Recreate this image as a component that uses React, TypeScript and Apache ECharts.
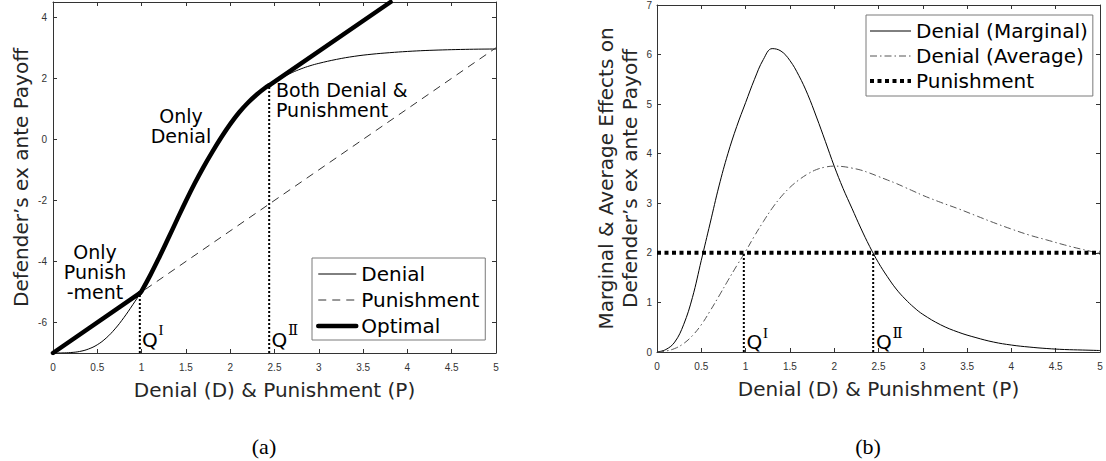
import React, { useEffect, useRef } from "react";
import * as echarts from "echarts";

// ---------- data ----------
// common x grid (Denial D & Punishment P)
const xGrid = [
  0, 0.1, 0.2, 0.3, 0.4, 0.5, 0.6, 0.7, 0.8, 0.9, 1.0, 1.1, 1.2, 1.3, 1.4, 1.5, 1.6, 1.7, 1.8, 1.9,
  2.0, 2.1, 2.2, 2.3, 2.4, 2.5, 2.6, 2.7, 2.8, 2.9, 3.0, 3.2, 3.4, 3.6, 3.8, 4.0, 4.2, 4.4, 4.6, 4.8, 5.0,
];
// (a) defender's ex ante payoff with denial only
const denialPayoff = [
  -7, -6.998, -6.985, -6.95, -6.87, -6.73, -6.51, -6.21, -5.84, -5.42, -4.97, -4.44, -3.86, -3.25, -2.63,
  -2.02, -1.44, -0.9, -0.4, 0.07, 0.5, 0.88, 1.2, 1.47, 1.7, 1.89, 2.05, 2.19, 2.31, 2.41, 2.49, 2.62, 2.72,
  2.79, 2.84, 2.88, 2.91, 2.93, 2.945, 2.955, 2.96,
];
// (a) punishment only (straight line)
const punishmentX = [0, 5];
const punishmentPayoff = [-7, 3];
// thresholds Q^I, Q^II and payoff there
const qThresholds = [0.98, 2.44];
const qPayoff = [-5.04, 1.77];
// end of the optimal line at the top of panel (a)
const optimalEnd = [3.81, 4.5];
// (b) marginal and average effects of denial
const marginalEffect = [
  0, 0.05, 0.2, 0.55, 1.1, 1.85, 2.6, 3.35, 4.0, 4.55, 5.03, 5.5, 5.9, 6.12, 6.07, 5.88, 5.58, 5.2, 4.74,
  4.25, 3.75, 3.3, 2.9, 2.5, 2.13, 1.8, 1.52, 1.27, 1.07, 0.9, 0.76, 0.55, 0.4, 0.29, 0.2, 0.14, 0.1, 0.07,
  0.05, 0.04, 0.03,
];
const averageEffect = [
  0, 0.02, 0.07, 0.17, 0.33, 0.55, 0.83, 1.13, 1.44, 1.74, 2.03, 2.34, 2.63, 2.9, 3.13, 3.32, 3.47, 3.59,
  3.68, 3.73, 3.75, 3.74, 3.71, 3.67, 3.61, 3.54, 3.47, 3.4, 3.32, 3.24, 3.16, 3.02, 2.89, 2.75, 2.61, 2.48,
  2.36, 2.26, 2.16, 2.07, 1.99,
];
const punishmentEffect = 2;
// tick labels
const leftYTicks = [-6, -4, -2, 0, 2, 4];

// ---------- styles ----------
const SANS = "'DejaVu Sans', 'Noto Sans', sans-serif";
const TICK_FONT = "'Liberation Sans Narrow', 'Liberation Sans', Arial, sans-serif";
const SERIF = "'Liberation Serif', 'DejaVu Serif', serif";
const AX = "#333333";
const TITLE = "#262626";

const pairs = (xs: number[], ys: number[]) => xs.map((x, i) => [x, ys[i]]);

function buildOption() {
  const denialPts = pairs(xGrid, denialPayoff);
  const optimalDenial = [
    [qThresholds[0], qPayoff[0]],
    ...denialPts.filter((p) => p[0] > qThresholds[0] + 0.01 && p[0] < qThresholds[1] - 0.01),
    [qThresholds[1], qPayoff[1]],
  ];

  const axisLine = { show: true, onZero: false, lineStyle: { color: AX, width: 1 } };
  const tick = { show: true, inside: true, length: 4, lineStyle: { color: AX, width: 1 } };
  const tickLabel = { fontFamily: TICK_FONT, fontSize: 10, color: "#333" };
  const nameStyle = { fontFamily: SANS, fontSize: 20, color: TITLE, lineHeight: 22 };

  const xAxisPair = (gridIndex: number) => [
    {
      type: "value", gridIndex, min: 0, max: 5, interval: 0.5, position: "bottom",
      name: "Denial (D) & Punishment (P)", nameLocation: "middle", nameGap: 26, nameTextStyle: nameStyle,
      axisLine, axisTick: tick, axisLabel: { ...tickLabel, margin: 9 }, splitLine: { show: false },
    },
    {
      type: "value", gridIndex, min: 0, max: 5, interval: 0.5, position: "top",
      axisLine, axisTick: tick, axisLabel: { show: false }, splitLine: { show: false },
    },
  ];

  const line = (name: string, data: number[][], xi: number, style: any, extra: any = {}) => ({
    type: "line", name, data, xAxisIndex: xi, yAxisIndex: xi, symbol: "none", symbolSize: 0,
    showSymbol: false, silent: true, lineStyle: style,
    itemStyle: { color: style.color, opacity: 0 }, ...extra,
  });

  const dotted = { color: "#000", width: 2, type: [2, 2] };
  const legendCommon = {
    orient: "vertical", itemHeight: 14, borderColor: "#7a7a7a", borderWidth: 1,
    backgroundColor: "#fff", selectedMode: false,
    textStyle: { fontFamily: SANS, fontSize: 20, color: "#000" },
    lineStyle: { width: "inherit" }, itemStyle: { opacity: 0 },
  };
  const annot = { fontFamily: SANS, fontSize: 19, lineHeight: 20, fill: "#000", verticalAlign: "middle" };
  const qStyle = { fontFamily: SANS, fontSize: 20, align: "left", verticalAlign: "middle", fill: "#000" };
  const supStyle = { fontFamily: SERIF, fontSize: 15, align: "left", verticalAlign: "middle", fill: "#000" };

  return {
    animation: false,
    grid: [
      { left: 53, top: 2, width: 443, height: 351 },
      { left: 657, top: 2, width: 443, height: 350 },
    ],
    xAxis: [...xAxisPair(0), ...xAxisPair(1)],
    yAxis: [
      {
        type: "value", gridIndex: 0, min: -7, max: 4.5, position: "left",
        name: "Defender\u2019s ex ante Payoff", nameLocation: "middle", nameGap: 21, nameRotate: 90,
        nameTextStyle: nameStyle, axisLine,
        axisTick: { ...tick, customValues: leftYTicks },
        axisLabel: { ...tickLabel, margin: 6, customValues: leftYTicks }, splitLine: { show: false },
      },
      {
        type: "value", gridIndex: 0, min: -7, max: 4.5, position: "right", axisLine,
        axisTick: { ...tick, customValues: leftYTicks }, axisLabel: { show: false, customValues: leftYTicks },
        splitLine: { show: false },
      },
      {
        type: "value", gridIndex: 1, min: 0, max: 7, interval: 1, position: "left",
        name: "Marginal & Average Effects on\nDefender\u2019s ex ante Payoff", nameLocation: "middle",
        nameGap: 15, nameRotate: 90, nameTextStyle: { ...nameStyle, lineHeight: 24 }, axisLine,
        axisTick: tick, axisLabel: { ...tickLabel, margin: 5 }, splitLine: { show: false },
      },
      {
        type: "value", gridIndex: 1, min: 0, max: 7, interval: 1, position: "right", axisLine,
        axisTick: tick, axisLabel: { show: false }, splitLine: { show: false },
      },
    ],
    legend: [
      {
        ...legendCommon,
        data: ["Denial", "Punishment", "Optimal"], left: 312, top: 258,
        itemWidth: 38, itemGap: 6, padding: [6, 6, 4, 4],
      },
      {
        ...legendCommon,
        data: [
          { name: "Denial (Marginal)" },
          { name: "Denial (Average)" },
          { name: "Punishment", lineStyle: { type: [4, 3.5], width: 4, color: "#000" } },
        ],
        left: 866, top: 15, itemWidth: 41, itemGap: 5, padding: [6, 5, 5, 2],
      },
    ],
    series: [
      line("Denial", denialPts, 0, { color: "#000", width: 1 }, { smooth: 0.4 }),
      line("Punishment", pairs(punishmentX, punishmentPayoff), 0, { color: "#333", width: 1, type: [8, 6] }),
      line("Optimal", [[punishmentX[0], punishmentPayoff[0]], [qThresholds[0], qPayoff[0]]], 0,
        { color: "#000", width: 4.5, cap: "round", join: "round" }, { z: 4 }),
      line("Optimal", optimalDenial, 0, { color: "#000", width: 4.5, cap: "round", join: "round" },
        { smooth: 0.4, z: 4 }),
      line("Optimal", [[qThresholds[1], qPayoff[1]], optimalEnd], 0,
        { color: "#000", width: 4.5, cap: "round", join: "round" }, { z: 4 }),
      line("Q I (a)", [[qThresholds[0], -7], [qThresholds[0], qPayoff[0]]], 0, dotted, { z: 3 }),
      line("Q II (a)", [[qThresholds[1], -7], [qThresholds[1], qPayoff[1]]], 0, dotted, { z: 3 }),

      line("Denial (Marginal)", pairs(xGrid, marginalEffect), 2, { color: "#000", width: 1 }, { smooth: 0.4 }),
      line("Denial (Average)", pairs(xGrid, averageEffect), 2, { color: "#555", width: 1, type: [7, 3, 1.5, 3] },
        { smooth: 0.4 }),
      line("Punishment", [[0, punishmentEffect], [5, punishmentEffect]], 2,
        { color: "#000", width: 4, type: [4, 3.5] }, { z: 4 }),
      line("Q I (b)", [[qThresholds[0], 0], [qThresholds[0], punishmentEffect]], 2, dotted, { z: 3 }),
      line("Q II (b)", [[qThresholds[1], 0], [qThresholds[1], punishmentEffect]], 2, dotted, { z: 3 }),
    ],
    graphic: [
      { type: "text", x: 181, y: 125.5, style: { ...annot, text: "Only\nDenial", align: "center" } },
      { type: "text", x: 276, y: 99.5, style: { ...annot, text: "Both Denial &\nPunishment", align: "left" } },
      { type: "text", x: 95, y: 271.5, style: { ...annot, text: "Only\nPunish\n-ment", align: "center" } },
      // Q labels
      { type: "text", x: 142, y: 340, style: { ...qStyle, text: "Q" } },
      { type: "text", x: 158.5, y: 330, style: { ...supStyle, text: "I" } },
      { type: "text", x: 271.5, y: 340, style: { ...qStyle, text: "Q" } },
      { type: "text", x: 288, y: 330, style: { ...supStyle, text: "\u2161" } },
      { type: "text", x: 746.5, y: 342, style: { ...qStyle, text: "Q" } },
      { type: "text", x: 763, y: 333, style: { ...supStyle, text: "I" } },
      { type: "text", x: 876, y: 342, style: { ...qStyle, text: "Q" } },
      { type: "text", x: 892.5, y: 333, style: { ...supStyle, text: "\u2161" } },
      // panel captions
      { type: "text", x: 264, y: 446, style: { text: "(a)", fontFamily: SERIF, fontSize: 22, align: "center", verticalAlign: "middle", fill: "#000" } },
      { type: "text", x: 868, y: 446, style: { text: "(b)", fontFamily: SERIF, fontSize: 22, align: "center", verticalAlign: "middle", fill: "#000" } },
    ],
  };
}

export default function App() {
  const ref = useRef<HTMLDivElement>(null);
  useEffect(() => {
    if (!ref.current) return;
    const chart = echarts.init(ref.current, undefined, { renderer: "svg" });
    chart.setOption(buildOption() as any);
    return () => chart.dispose();
  }, []);
  return (
    <div
      ref={ref}
      style={{ position: "fixed", left: 0, top: 0, width: 1106, height: 461, background: "#fff" }}
    />
  );
}
